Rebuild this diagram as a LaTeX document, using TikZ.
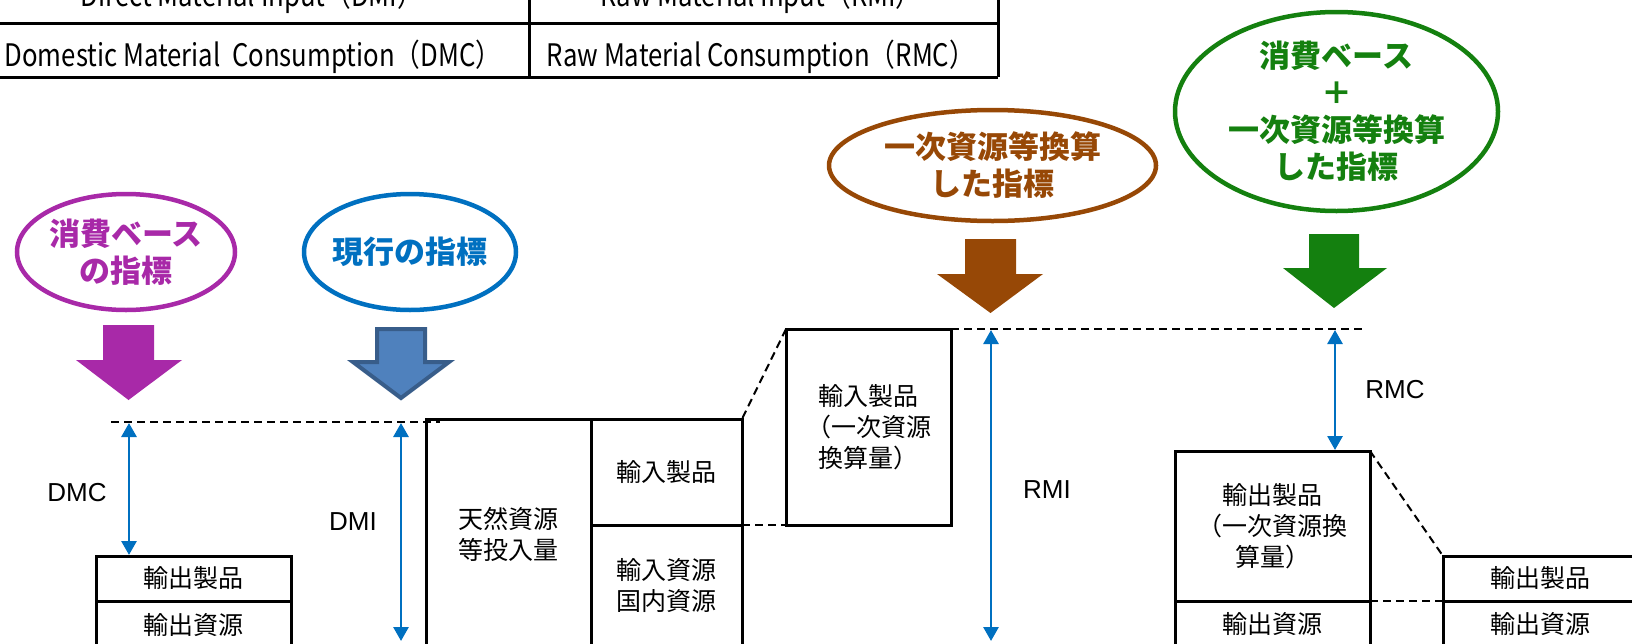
\documentclass[tikz,border=0pt]{standalone}
\usepackage{fontspec}
\setmainfont{Liberation Sans}
\newfontfamily\jp{Noto Sans CJK JP}
\newfontfamily\tbl[FakeStretch=0.83]{Noto Sans CJK JP}
\usetikzlibrary{shapes.geometric,arrows.meta}
\definecolor{cpurple}{RGB}{168,41,168}
\definecolor{cblue}{RGB}{0,112,192}
\definecolor{cbrown}{RGB}{151,72,6}
\definecolor{cgreen}{RGB}{20,128,15}
\definecolor{afill}{RGB}{79,129,189}
\definecolor{aline}{RGB}{56,93,138}
\begin{document}
\begin{tikzpicture}[x=1pt,y=-1pt,
  cell/.style={draw=black,line width=3pt,rectangle,inner sep=0pt,outer sep=0pt,
    font=\jp\fontsize{25}{31}\selectfont,align=center},
  title/.style={ellipse,draw,line width=4.5pt,inner xsep=-25pt,inner ysep=-5pt,outer sep=0pt,
    align=center,font=\jp\bfseries\fontsize{31}{37}\selectfont},
  meas/.style={cblue,line width=2.8pt,{Triangle[width=15pt,length=14pt]}-{Triangle[width=15pt,length=14pt]}},
  guide/.style={black,line width=2pt,dash pattern=on 8pt off 5pt},
  lab/.style={font=\fontsize{26}{30}\selectfont,inner sep=0pt},
  tabtext/.style={font=\tbl\fontsize{31}{36}\selectfont,inner sep=0pt,anchor=base},
  tabline/.style={line width=3pt}
]
\useasboundingbox (0,0) rectangle (1632,643);
\clip (0,0) rectangle (1632,643);

% table
\draw[tabline] (-5,23) -- (998,23);
\draw[tabline] (-5,77) -- (998,77);
\draw[tabline] (529,-5) -- (529,77);
\draw[tabline] (998,-5) -- (998,77);
\node[tabtext] (t1) at (252,6) {Direct Material Input（DMI）};
\node[tabtext] (t2) at (761,6) {Raw Material Input（RMI）};
\node[tabtext] (t3) at (253,66) {Domestic Material\ \ Consumption（DMC）};
\node[tabtext] (t4) at (761,66) {Raw Material Consumption（RMC）};

% title ellipses
\node[title,draw=cpurple,text=cpurple,minimum width=218pt,minimum height=116pt] (ep) at (126,252) {消費ベース\\の指標};
\node[title,draw=cblue,text=cblue,minimum width=212pt,minimum height=116pt] (eb) at (410,252) {現行の指標};
\node[title,draw=cbrown,text=cbrown,minimum width=327pt,minimum height=111pt] (er) at (992.5,165.5) {一次資源等換算\\した指標};
\node[title,draw=cgreen,text=cgreen,minimum width=323pt,minimum height=199pt] (eg) at (1336.5,111.5) {消費ベース\\＋\\一次資源等換算\\した指標};

% block arrows
\fill[cpurple] (103,325) -- (154,325) -- (154,360) -- (182,360) -- (128.5,400) -- (76,360) -- (103,360) -- cycle;
\filldraw[fill=afill,draw=aline,line width=4pt] (377,329) -- (425,329) -- (425,362) -- (449,362) -- (401,398) -- (353,362) -- (377,362) -- cycle;
\fill[cbrown] (965,239) -- (1016,239) -- (1016,274) -- (1043,274) -- (990.5,313) -- (937,274) -- (965,274) -- cycle;
\fill[cgreen] (1309,234) -- (1359,234) -- (1359,268) -- (1387,268) -- (1334,308) -- (1283,268) -- (1309,268) -- cycle;

% boxes
\node[cell,minimum width=195pt,minimum height=45pt] (e1top) at (193.5,578.5) {輸出製品};
\node[cell,minimum width=195pt,minimum height=48pt] (e1bot) at (193.5,625) {輸出資源};
\node[cell,minimum width=165pt,minimum height=230pt] (n1) at (508.5,534) {天然資源\\等投入量};
\node[cell,minimum width=151pt,minimum height=106pt] (n2) at (666.5,472) {輸入製品};
\node[cell,minimum width=151pt,minimum height=122pt] (n3) at (666.5,586) {輸入資源\\国内資源};
\node[cell,minimum width=165pt,minimum height=196pt] (i1) at (868.5,427) {輸入製品\\（一次資源\\換算量）};
\node[cell,minimum width=195pt,minimum height=150pt] (x1) at (1272.5,526) {輸出製品\\（一次資源換\\算量）};
\node[cell,minimum width=195pt,minimum height=46pt] (x1bot) at (1272.5,624) {輸出資源};
\node[cell,minimum width=195pt,minimum height=45pt] (x2top) at (1540.5,578.5) {輸出製品};
\node[cell,minimum width=195pt,minimum height=46pt] (x2bot) at (1540.5,624) {輸出資源};

% guide dashed lines
\coordinate (g1a) at (111,422);
\coordinate (g1b) at (440,422);
\coordinate (g2b) at (1363,329);
\draw[guide] (g1a) -- (g1b);
\draw[guide] (i1.north east) -- (g2b);
\draw[guide] (i1.north west) -- (n2.north east);
\draw[guide] (n2.south east) -- (i1.south west);
\draw[guide] (x1.north east) -- (x2top.north west);
\draw[guide] (x1.south east) -- (x2top.south west);

% measure arrows
\coordinate (dmcA) at (129,423);
\coordinate (dmcB) at (129,555);
\coordinate (dmiA) at (401,423);
\coordinate (dmiB) at (401,641);
\coordinate (rmiA) at (991,330);
\coordinate (rmiB) at (991,641);
\coordinate (rmcA) at (1335,330);
\coordinate (rmcB) at (1335,450);
\draw[meas] (dmcA) -- (dmcB);
\draw[meas] (dmiA) -- (dmiB);
\draw[meas] (rmiA) -- (rmiB);
\draw[meas] (rmcA) -- (rmcB);

% labels
\node[lab] (ldmc) at (77,493) {DMC};
\node[lab] (ldmi) at (353,522) {DMI};
\node[lab] (lrmi) at (1047,490) {RMI};
\node[lab] (lrmc) at (1395,390) {RMC};
\end{tikzpicture}
\end{document}
